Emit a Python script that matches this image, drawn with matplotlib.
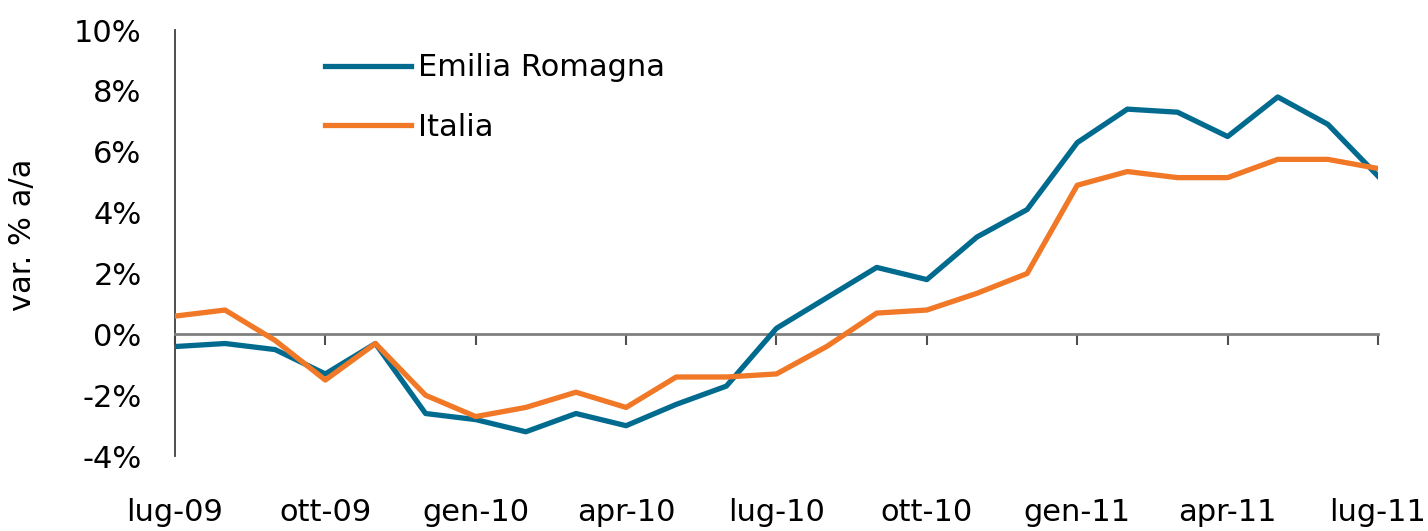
import numpy as np
import matplotlib
matplotlib.use('Agg')
from matplotlib import pyplot as plt
from matplotlib.ticker import FuncFormatter

plt.rcParams['font.family'] = ['DejaVu Sans']

months = ['lug-09', 'ago-09', 'set-09', 'ott-09', 'nov-09', 'dic-09',
          'gen-10', 'feb-10', 'mar-10', 'apr-10', 'mag-10', 'giu-10',
          'lug-10', 'ago-10', 'set-10', 'ott-10', 'nov-10', 'dic-10',
          'gen-11', 'feb-11', 'mar-11', 'apr-11', 'mag-11', 'giu-11',
          'lug-11']

emilia = [-0.4, -0.3, -0.5, -1.3, -0.3, -2.6, -2.8, -3.2, -2.6, -3.0,
          -2.3, -1.7, 0.2, 1.2, 2.2, 1.8, 3.2, 4.1, 6.3, 7.4,
          7.3, 6.5, 7.8, 6.9, 5.2]

italia = [0.6, 0.8, -0.2, -1.5, -0.3, -2.0, -2.7, -2.4, -1.9, -2.4,
          -1.4, -1.4, -1.3, -0.4, 0.7, 0.8, 1.35, 2.0, 4.9, 5.35,
          5.15, 5.15, 5.75, 5.75, 5.45]

blue = '#006b8f'
orange = '#f07826'

fig = plt.figure(figsize=(14.28, 5.31), dpi=100)
ax = fig.add_axes([0.1225, 0.141, 0.8425, 0.8025])

x = np.arange(len(months))
ax.plot(x, emilia, color=blue, lw=3.8, label='Emilia Romagna', zorder=3)
ax.plot(x, italia, color=orange, lw=3.8, label='Italia', zorder=3)

ax.set_xlim(0, len(months) - 1)
ax.set_ylim(-4, 10)
ax.set_yticks(np.arange(-4, 11, 2))
ax.yaxis.set_major_formatter(FuncFormatter(lambda v, p: '%d%%' % v))

ax.set_xticks(x[::3])
ax.set_xticklabels(months[::3])

for s in ['top', 'right']:
    ax.spines[s].set_visible(False)
ax.spines['bottom'].set_position(('data', 0))
ax.spines['bottom'].set_color('#808080')
ax.spines['bottom'].set_linewidth(2)
ax.spines['left'].set_color('#404040')
ax.spines['left'].set_linewidth(1.3)

ax.tick_params(axis='y', length=0, labelsize=22, pad=24)
ax.tick_params(axis='x', direction='out', length=8, width=1.5, color='#505050',
               labelsize=22, pad=110)

ax.set_ylabel('var. % a/a', fontsize=22)
ax.yaxis.set_label_coords(-0.1147, 0.52)

ax.legend(loc='upper left', bbox_to_anchor=(0.1247, 0.945), frameon=False,
          fontsize=22, handlelength=2.8, handletextpad=0.26, labelspacing=1.0,
          borderpad=0, borderaxespad=0)

fig.savefig('out.png', dpi=100)
